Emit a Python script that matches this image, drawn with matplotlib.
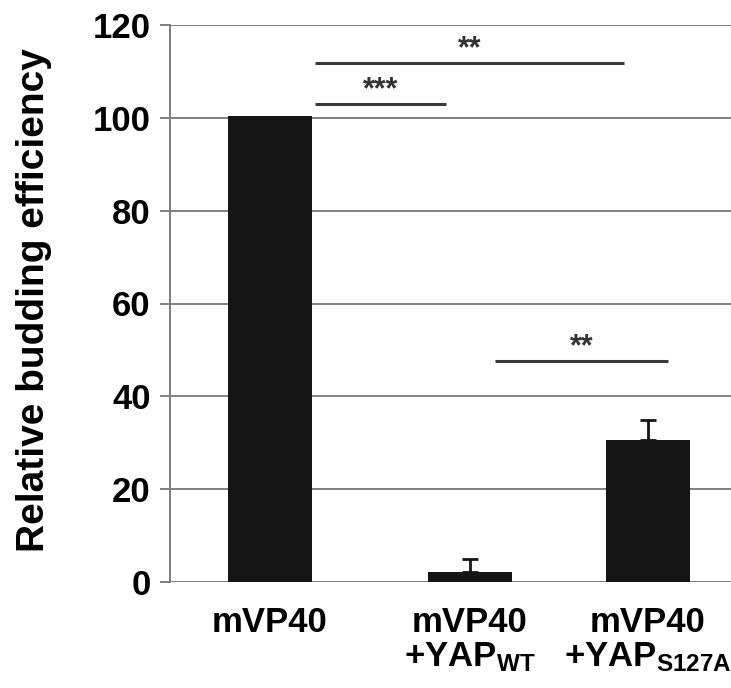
import matplotlib
matplotlib.use("Agg")
import matplotlib.pyplot as plt

plt.rcParams['font.family'] = ['Liberation Sans', 'DejaVu Sans']
plt.rcParams['font.weight'] = 'bold'
plt.rcParams['mathtext.fontset'] = 'custom'
plt.rcParams['mathtext.rm'] = 'Liberation Sans:bold'
plt.rcParams['mathtext.it'] = 'Liberation Sans:bold'
plt.rcParams['mathtext.bf'] = 'Liberation Sans:bold'

# data
labels = ['mVP40', 'mVP40\n+YAP$_{\\mathrm{WT}}$', 'mVP40\n+YAP$_{\\mathrm{S127A}}$']
xpos = [0, 1, 1.89]
efficiency = [100.5, 2.2, 30.5]
err = [0, 2.8, 4.5]

# significance brackets: (x start, x end, y, stars)
sig_x0 = [0.225, 0.225, 1.125]
sig_x1 = [1.77, 0.88, 1.99]
sig_y = [111.9, 103.0, 47.6]
sig_txt = ['**', '***', '**']

grey = '#7f7f7f'

fig = plt.figure(figsize=(7.31, 6.88), dpi=100)
ax = fig.add_axes([170/731, 106/688, 561/731, 557/688])

ax.set_axisbelow(True)
ax.yaxis.grid(True, color=grey, linewidth=1.4)
ax.bar(xpos, efficiency, width=0.42, color='#151515', zorder=3)
ax.errorbar(xpos[1:], efficiency[1:], yerr=[[0, 0], err[1:]], fmt='none',
            ecolor='#151515', elinewidth=2, capsize=6, capthick=2, zorder=2)

for x0, x1, y, t in zip(sig_x0, sig_x1, sig_y, sig_txt):
    ax.plot([x0, x1], [y, y], color='#3a3a3a', linewidth=2.2, solid_capstyle='butt')
    ax.text((x0 + x1) / 2, y + 1.2, t, ha='center', va='baseline',
            fontsize=22, color='#333333')

ax.set_ylim(0, 120)
ax.set_yticks(range(0, 121, 20))
ax.set_xlim(-0.5, 2.305)
ax.set_xticks(xpos)
ax.set_xticklabels(labels, fontsize=25, linespacing=1.05)
ax.tick_params(axis='x', length=0, pad=17)
ax.tick_params(axis='y', length=7, width=1.4, color=grey, labelsize=25, pad=7)

for s in ['top', 'right', 'bottom']:
    ax.spines[s].set_visible(False)
ax.spines['left'].set_color(grey)
ax.spines['left'].set_linewidth(1.4)

ax.set_ylabel('Relative budding efficiency', fontsize=28, fontweight='bold')
ax.yaxis.set_label_coords(-0.21, 0.507)

fig.savefig('out.png', dpi=100)
